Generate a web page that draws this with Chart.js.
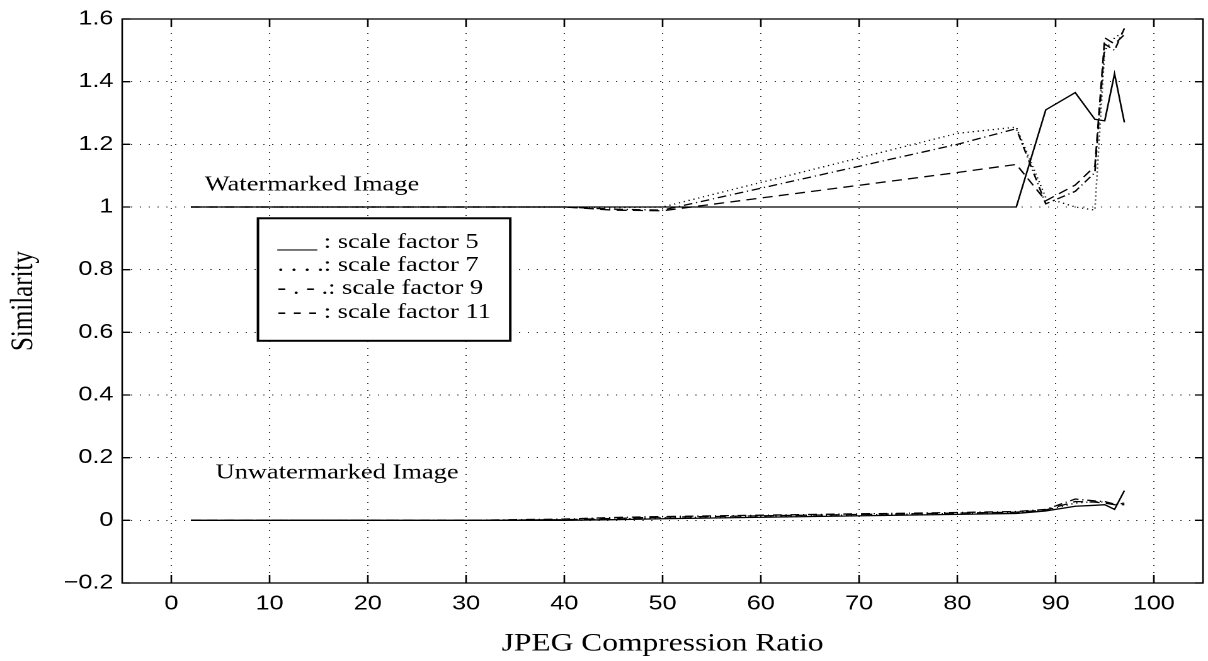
<!DOCTYPE html>
<html>
<head>
<meta charset="utf-8">
<script src="https://cdn.jsdelivr.net/npm/chart.js@4.4.1/dist/chart.umd.min.js"></script>
<style>
  html, body { margin: 0; padding: 0; background: #fff; }
  #chart { display: block; width: 1208px !important; height: 661px !important; }
</style>
</head>
<body>
<canvas id="chart" width="959" height="661" style="width:1208px;height:661px"></canvas>
<script>
// JPEG compression ratios (x) shared by all curves
var ratios = [2, 10, 20, 30, 40, 45, 50, 80, 86, 89, 92, 94, 95, 96, 97];

// watermarked image, one curve per scale factor
var wm5  = [1, 1, 1, 1, 1, 1, 1, 1, 1.0, 1.31, 1.365, 1.28, 1.275, 1.425, 1.27];
var wm7  = [1, 1, 1, 1, 1, 0.998, 1.0, 1.235, 1.255, 1.03, 1.0, 0.99, 1.5, 1.54, 1.56];
var wm9  = [1, 1, 1, 1, 1, 0.993, 0.99, 1.2, 1.25, 1.01, 1.05, 1.11, 1.52, 1.5, 1.57];
var wm11 = [1, 1, 1, 1, 1, 0.99, 0.988, 1.11, 1.136, 1.02, 1.07, 1.13, 1.54, 1.52, 1.55];

// unwatermarked image
var un5  = [0, 0, 0, 0, 0, 0.002, 0.005, 0.019, 0.022, 0.03, 0.045, 0.048, 0.05, 0.035, 0.095];
var un7  = [0, 0, 0, 0, 0.001, 0.004, 0.008, 0.022, 0.025, 0.032, 0.055, 0.06, 0.058, 0.05, 0.055];
var un9  = [0, 0, 0, 0, 0.004, 0.009, 0.012, 0.025, 0.028, 0.035, 0.068, 0.062, 0.06, 0.052, 0.055];
var un11 = [0, 0, 0, 0, 0.002, 0.006, 0.01, 0.023, 0.026, 0.033, 0.06, 0.058, 0.055, 0.05, 0.05];

var xTicks = [0, 10, 20, 30, 40, 50, 60, 70, 80, 90, 100];
var yTicks = [-0.2, 0, 0.2, 0.4, 0.6, 0.8, 1, 1.2, 1.4, 1.6];

var legendLines = [
  "___ : scale factor 5",
  ". . . .: scale factor 7",
  "- . - .: scale factor 9",
  "- - - : scale factor 11"
];

var SOLID = [], DOTTED = [1, 3], DASHDOT = [7, 3, 1, 3], DASHED = [8, 5];

function series(label, values, dash) {
  return {
    label: label,
    data: values.map(function (v, i) { return { x: ratios[i], y: v }; }),
    borderColor: "#000",
    borderWidth: 1.3,
    borderDash: dash,
    pointRadius: 0,
    tension: 0,
    fill: false
  };
}

var frame = {
  id: "frame",
  afterDatasetsDraw: function (chart) {
    var ctx = chart.ctx;
    var a = chart.chartArea;
    var xs = chart.scales.x;
    var ys = chart.scales.y;
    ctx.save();
    ctx.setLineDash([]);
    ctx.strokeStyle = "#000";
    ctx.lineWidth = 1.3;
    ctx.strokeRect(a.left, a.top, a.right - a.left, a.bottom - a.top);

    // inward ticks on all four sides
    ctx.beginPath();
    xs.ticks.forEach(function (t) {
      var px = xs.getPixelForValue(t.value);
      ctx.moveTo(px, a.bottom); ctx.lineTo(px, a.bottom - 8);
      ctx.moveTo(px, a.top); ctx.lineTo(px, a.top + 8);
    });
    ys.ticks.forEach(function (t) {
      var py = ys.getPixelForValue(t.value);
      ctx.moveTo(a.left, py); ctx.lineTo(a.left + 6.5, py);
      ctx.moveTo(a.right, py); ctx.lineTo(a.right - 6.5, py);
    });
    ctx.stroke();

    ctx.fillStyle = "#000";
    ctx.font = '21px "Liberation Serif"';
    ctx.textAlign = "left";
    ctx.textBaseline = "alphabetic";
    ctx.fillText("Watermarked Image", xs.getPixelForValue(3.4), ys.getPixelForValue(1.053));
    ctx.fillText("Unwatermarked Image", xs.getPixelForValue(4.5), ys.getPixelForValue(0.134));

    // legend box
    var bx0 = xs.getPixelForValue(8.82), bx1 = xs.getPixelForValue(34.5);
    var by0 = ys.getPixelForValue(0.964), by1 = ys.getPixelForValue(0.573);
    ctx.fillStyle = "#fff";
    ctx.fillRect(bx0, by0, bx1 - bx0, by1 - by0);
    ctx.lineWidth = 2;
    ctx.strokeRect(bx0, by0, bx1 - bx0, by1 - by0);
    ctx.fillStyle = "#000";
    var baselines = [0.869, 0.796, 0.722, 0.646];
    legendLines.forEach(function (txt, i) {
      ctx.fillText(txt, xs.getPixelForValue(10.8), ys.getPixelForValue(baselines[i]));
    });
    ctx.restore();
  }
};

new Chart(document.getElementById("chart"), {
  type: "line",
  data: {
    datasets: [
      series("wm scale factor 5", wm5, SOLID),
      series("wm scale factor 7", wm7, DOTTED),
      series("wm scale factor 9", wm9, DASHDOT),
      series("wm scale factor 11", wm11, DASHED),
      series("un scale factor 5", un5, SOLID),
      series("un scale factor 7", un7, DOTTED),
      series("un scale factor 9", un9, DASHDOT),
      series("un scale factor 11", un11, DASHED)
    ]
  },
  options: {
    responsive: false,
    devicePixelRatio: 2,
    animation: false,
    layout: { padding: { left: 0, right: 4, top: 17, bottom: 0 } },
    plugins: { legend: { display: false }, tooltip: { enabled: false } },
    scales: {
      x: {
        type: "linear",
        min: -5,
        max: 105,
        afterFit: function (s) { s.height = 78; },
        afterBuildTicks: function (s) {
          s.ticks = xTicks.map(function (v) { return { value: v }; });
        },
        ticks: {
          padding: 9,
          maxRotation: 0,
          autoSkip: false,
          color: "#000",
          font: { family: "Liberation Sans", size: 20 }
        },
        grid: { color: "rgba(0,0,0,0.8)", lineWidth: 1, drawTicks: false },
        border: { display: false, dash: [1, 6] },
        title: {
          display: true,
          text: "JPEG Compression Ratio",
          color: "#000",
          font: { family: "Liberation Serif", size: 25 },
          padding: { top: 0, bottom: 2 }
        }
      },
      y: {
        min: -0.2,
        max: 1.6,
        afterFit: function (s) { s.width = 97; },
        afterBuildTicks: function (s) {
          s.ticks = yTicks.map(function (v) { return { value: v }; });
        },
        ticks: {
          padding: 7,
          autoSkip: false,
          color: "#000",
          font: { family: "Liberation Sans", size: 20 },
          callback: function (v) {
            var r = Math.round(v * 10) / 10;
            return (r < 0 ? "\u2212" : "") + Math.abs(r);
          }
        },
        grid: { color: "rgba(0,0,0,0.8)", lineWidth: 1, drawTicks: false },
        border: { display: false, dash: [1, 6] },
        title: {
          display: true,
          text: "Similarity",
          color: "#000",
          font: { family: "Liberation Serif", size: 25 },
          padding: { top: 4, bottom: 0 }
        }
      }
    }
  },
  plugins: [frame]
});
</script>
</body>
</html>
